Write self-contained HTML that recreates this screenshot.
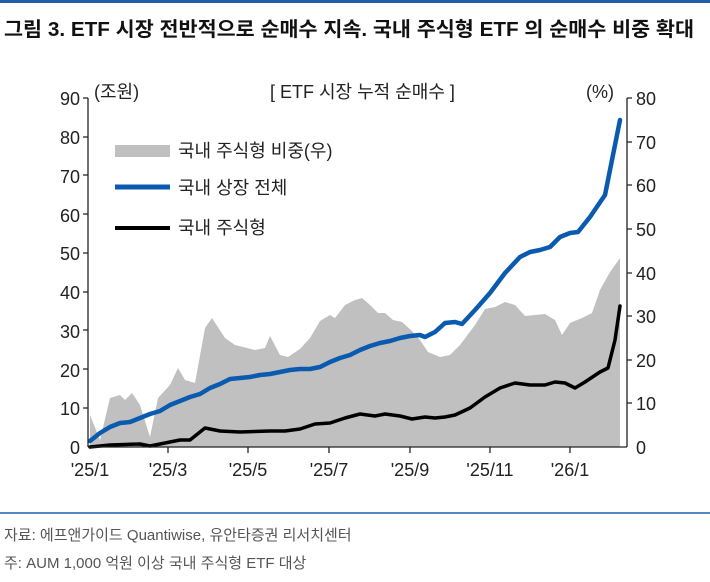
<!DOCTYPE html>
<html><head><meta charset="utf-8"><style>
body{margin:0;width:710px;height:577px;background:#fff;overflow:hidden;font-family:"Liberation Sans","Noto Sans CJK KR",sans-serif}
</style></head><body>
<svg width="710" height="577" xmlns="http://www.w3.org/2000/svg" font-family="Liberation Sans, Noto Sans CJK KR, sans-serif">
<rect x="0" y="0" width="710" height="3" fill="#1f5fa8"/>
<text x="4" y="36" font-size="20" font-weight="bold" fill="#111" textLength="690" lengthAdjust="spacingAndGlyphs">그림 3. ETF 시장 전반적으로 순매수 지속. 국내 주식형 ETF 의 순매수 비중 확대</text>
<g font-size="18" fill="#222">
<text x="80" y="105" text-anchor="end">90</text><text x="80" y="144" text-anchor="end">80</text><text x="80" y="183" text-anchor="end">70</text><text x="80" y="222" text-anchor="end">60</text><text x="80" y="260" text-anchor="end">50</text><text x="80" y="299" text-anchor="end">40</text><text x="80" y="338" text-anchor="end">30</text><text x="80" y="377" text-anchor="end">20</text><text x="80" y="415" text-anchor="end">10</text><text x="80" y="454" text-anchor="end">0</text>
<text x="636" y="105">80</text><text x="636" y="149">70</text><text x="636" y="192">60</text><text x="636" y="236">50</text><text x="636" y="280">40</text><text x="636" y="323">30</text><text x="636" y="367">20</text><text x="636" y="410">10</text><text x="636" y="454">0</text>
<text x="94" y="98">(조원)</text><text x="586" y="98">(%)</text>
<text x="270" y="98">[ ETF 시장 누적 순매수 ]</text>
<g text-anchor="middle"><text x="90" y="476">'25/1</text><text x="168" y="476">'25/3</text><text x="248" y="476">'25/5</text><text x="329" y="476">'25/7</text><text x="410" y="476">'25/9</text><text x="490" y="476">'25/11</text><text x="570" y="476">'26/1</text></g>
</g>
<polygon fill="#c0c0c0" points="90,415 100,440 110,398 120,395 125,400 132,393 140,405 150,437 158,398 170,385 178,368 185,380 195,383 205,328 212,318 225,338 235,345 255,350 265,348 270,336 280,355 288,357 300,349 310,338 320,321 330,315 335,318 345,305 355,300 362,298 370,305 378,313 385,313 393,320 402,322 412,331 420,340 428,352 440,357 450,355 460,345 475,325 485,309 495,307 505,302 515,305 525,316 535,315 545,314 555,320 562,335 570,323 582,318 592,313 600,290 610,272 620,258 620,447 90,447"/>
<polyline fill="none" stroke="#0a5bb0" stroke-width="4.5" stroke-linejoin="round" stroke-linecap="round" points="90,441 100,433 110,427 120,423 130,422 140,418 150,414 160,411 170,405 180,401 190,397 200,394 210,388 220,384 230,379 240,378 250,377 260,375 270,374 280,372 290,370 300,369 310,369 320,367 330,362 340,358 350,355 360,350 370,346 380,343 390,341 400,338 410,336 420,335 425,337 435,332 445,323 455,322 462,324 475,310 490,293 505,273 520,257 530,252 540,250 550,247 560,237 570,233 578,232 590,217 605,195 612,160 620,120"/>
<polyline fill="none" stroke="#000" stroke-width="3.5" stroke-linejoin="round" stroke-linecap="round" points="90,447 110,445 140,444 150,446 165,443 180,440 190,440 205,428 220,431 240,432 270,431 285,431 300,429 315,424 330,423 345,418 360,414 375,416 385,414 400,416 412,419 425,417 435,418 445,417 455,415 470,408 485,397 500,388 515,383 530,385 545,385 555,382 565,383 575,388 585,382 600,372 608,368 615,340 620,306"/>
<g stroke="#222" stroke-width="1.3" fill="none">
<line x1="88" y1="98" x2="88" y2="447"/><line x1="88" y1="447" x2="627" y2="447"/><line x1="627" y1="98" x2="627" y2="447"/>
<path d="M83,98H88M83,137H88M83,175H88M83,214H88M83,253H88M83,292H88M83,330H88M83,369H88M83,408H88"/>
<path d="M627,98H632M627,142H632M627,185H632M627,229H632M627,273H632M627,316H632M627,360H632M627,403H632"/>
<path d="M168,447V453M248,447V453M329,447V453M410,447V453M490,447V453M570,447V453"/>
</g>
<rect x="115" y="145" width="55" height="12" fill="#c0c0c0"/>
<line x1="115" y1="187" x2="170" y2="187" stroke="#0a5bb0" stroke-width="5"/>
<line x1="115" y1="228" x2="170" y2="228" stroke="#000" stroke-width="4"/>
<g font-size="18" fill="#222"><text x="178" y="157">국내 주식형 비중(우)</text><text x="178" y="194">국내 상장 전체</text><text x="178" y="234">국내 주식형</text></g>
<line x1="0" y1="513" x2="710" y2="513" stroke="#1f5fa8" stroke-width="1.5"/>
<g font-size="15" fill="#555"><text x="4" y="540">자료: 에프앤가이드 Quantiwise, 유안타증권 리서치센터</text><text x="4" y="568">주: AUM 1,000 억원 이상 국내 주식형 ETF 대상</text></g>
</svg>
</body></html>
